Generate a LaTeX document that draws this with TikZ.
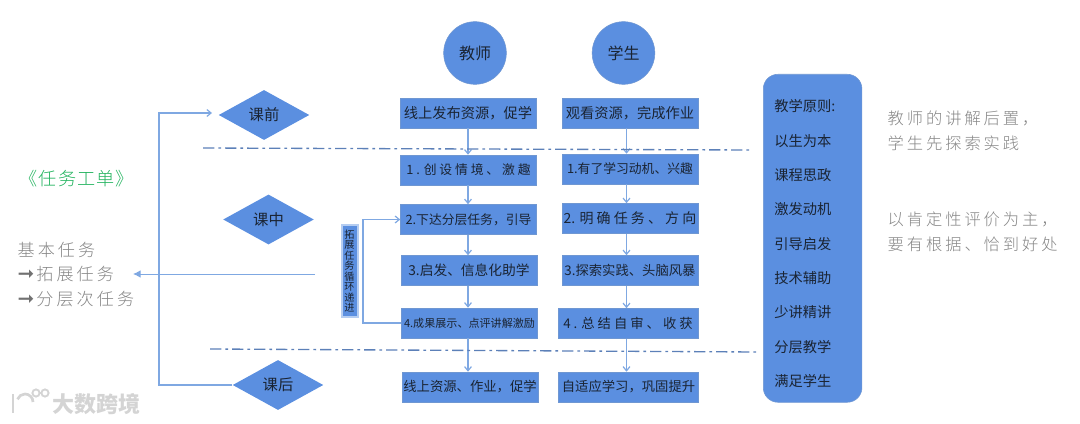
\documentclass[tikz,border=0pt]{standalone}
\usepackage{fontspec}
\usepackage{xcolor}
\usepackage{tikz}
\usetikzlibrary{arrows.meta,positioning,shapes.geometric}
\setmainfont{Noto Sans CJK SC}
\newfontfamily\flsign{DejaVu Sans}
\newfontfamily\flnote[LetterSpace=18]{Noto Sans CJK SC Light}
\newfontfamily\flsheet[LetterSpace=6]{Noto Sans CJK SC Light}
\definecolor{flFill}{HTML}{5B8FE0}
\definecolor{flEdge}{HTML}{6F97D2}
\definecolor{flInk}{HTML}{1A2433}
\definecolor{flLine}{HTML}{7FA8E2}
\definecolor{flRule}{HTML}{5C80B8}
\definecolor{flGrey}{HTML}{858585}
\definecolor{flGreen}{HTML}{22B35E}
\definecolor{flMark}{HTML}{D4D4D4}
\tikzset{
  fl diagram/.style={text=flInk, line cap=butt, line join=miter},
  fl box/.style={draw=flEdge, fill=flFill, line width=0.4pt, inner sep=0pt,
    minimum width=102pt, minimum height=22.5pt,
    font=\fontsize{#1}{13}\selectfont},
  fl wide box/.style={fl box=#1, minimum width=105pt},
  fl person/.style={circle, draw=flEdge, fill=flFill, line width=0.4pt,
    minimum size=47pt, inner sep=0pt, font=\fontsize{12}{14}\selectfont},
  fl phase/.style={diamond, aspect=1.82, fill=flFill, inner sep=0pt,
    minimum width=68pt, minimum height=37.5pt, font=\fontsize{11.5}{14}\selectfont},
  fl arrow/.style={-{Straight Barb[length=1.1mm,width=1.8mm]}, draw=flLine, line width=0.9pt},
  fl rule/.style={draw=flRule, line width=1pt, dash pattern=on 8.5pt off 3pt on 2pt off 3pt},
  fl note/.style={anchor=west, align=left, text=flGrey, font=\flnote\fontsize{12.2}{18.6}\selectfont},
}
\newcommand{\flhook}{{\flsign\fontsize{15}{18}\selectfont\color{flGrey!85!black}➞\hspace{1.5pt}}}
\begin{document}
\begin{tikzpicture}[fl diagram,x=0.75pt,y=-0.75pt]
\useasboundingbox (0,0) rectangle (1080,424);
% people
\node[fl person] (teacher) at (475,53) {教师};
\node[fl person] (student) at (623.5,53) {学生};
% teacher column
\node[fl box=10.7] (t0) at (468,113) {线上发布资源，促学};
\node[fl box=9.6] (t1) at (468.5,170) {1 . 创 设 情 境 、 激 趣};
\node[fl box=9.6] (t2) at (468.5,219.5) {2.下达分层任务，引导};
\node[fl box=10.3] (t3) at (469,270.5) {3.启发、信息化助学};
\node[fl box=8.3] (t4) at (469.5,323) {4.成果展示、点评讲解激励};
\node[fl box=10] (t5) at (470,387) {线上资源、作业，促学};
% student column
\node[fl box=10.7] (s0) at (630,113) {观看资源，完成作业};
\node[fl box=9.6] (s1) at (630,169) {1.有了学习动机、兴趣};
\node[fl box=10.5] (s2) at (630,218.5) {2. 明 确 任 务 、 方 向};
\node[fl box=10] (s3) at (630,270.5) {3.探索实践、头脑风暴};
\node[fl wide box=10] (s4) at (628,323.5) {4 . 总 结 自 审 、 收 获};
\node[fl wide box=10] (s5) at (628.5,387) {自适应学习，巩固提升};
% phases
\node[fl phase] (before) at (264,115) {课前};
\node[fl phase] (during) at (268.5,219.5) {课中};
\node[fl phase] (after) at (278,385) {课后};
% chains
\coordinate (tx) at (468,0);
\coordinate (sx) at (626.5,0);
\foreach \a/\b in {0/1,1/2,2/3,3/4,4/5}{
  \draw[fl arrow] (t\a.south -| tx) -- (t\b.north -| tx);
  \draw[fl arrow] (s\a.south -| sx) -- (s\b.north -| sx);
}
% phase rules
\coordinate (r1a) at (203,148);
\coordinate (r1b) at (750,150);
\coordinate (r2a) at (210,349);
\coordinate (r2b) at (757,352);
\draw[fl rule] (r1a) -- (r1b);
\draw[fl rule] (r2a) -- (r2b);
% loops
\coordinate (beforein) at (212,113);
\draw[fl arrow] (after.west) -- (159,385) |- (beforein);
\draw[fl arrow] (t4.west) -- (363,323) |- (t2.west);
\node[fill=flFill!45, inner sep=0pt, minimum width=13.5pt, minimum height=70pt] (loopglow) at (349.5,271) {};
\node[fill=flFill, inner sep=0pt, minimum width=10.5pt, minimum height=67pt, align=center,
  font=\fontsize{7.6}{7.9}\selectfont] (loop) at (349.5,271) {拓\\展\\任\\务\\循\\环\\递\\进};
% task sheet
\node[anchor=west, text=flGreen, font=\flsheet\fontsize{13.6}{18}\selectfont] (sheet) at (15,179) {《任务工单》};
\node[fl note, font=\flnote\fontsize{12.8}{18.6}\selectfont] (tasks) at (13,274.5)
  {基本任务\\\flhook 拓展任务\\\flhook 分层次任务};
\coordinate (taskout) at (315,274);
\draw[-{Latex[length=2mm,width=2mm]}, draw=flLine, line width=0.7pt] (taskout) -- (133,274);
% principles
\node[draw=flEdge, fill=flFill, line width=0.4pt, rounded corners=11pt, anchor=north west,
  minimum width=74pt, minimum height=246pt, inner sep=0pt] (rules) at (763,74) {};
\foreach \t [count=\i from 0] in {教学原则:,以生为本,课程思政,激发动机,引导启发,技术辅助,少讲精讲,分层教学,满足学生}{
  \node[anchor=west, inner sep=0pt, font=\fontsize{10.7}{13}\selectfont] (rule\i) at (774,{106.5+\i*34.3}) {\t};
}
% remarks
\node[fl note] (note1) at (883,131) {教师的讲解后置，\\学生先探索实践};
\node[fl note] (note2) at (883,232) {以肯定性评价为主，\\要有根据、恰到好处};
% watermark
\node[anchor=west, inner sep=0pt, text=flMark, font=\fontsize{16.5}{18}\bfseries\selectfont] (mark) at (52,404) {大数跨境};
\draw[flMark, line width=2pt] (13,394) -- (13,413);
\draw[flMark, line width=2pt] (33,402) arc (0:-160:8);
\draw[flMark, line width=1.4pt] (36,393) circle (3.6) (45,393) circle (3.6);
\end{tikzpicture}
\end{document}
